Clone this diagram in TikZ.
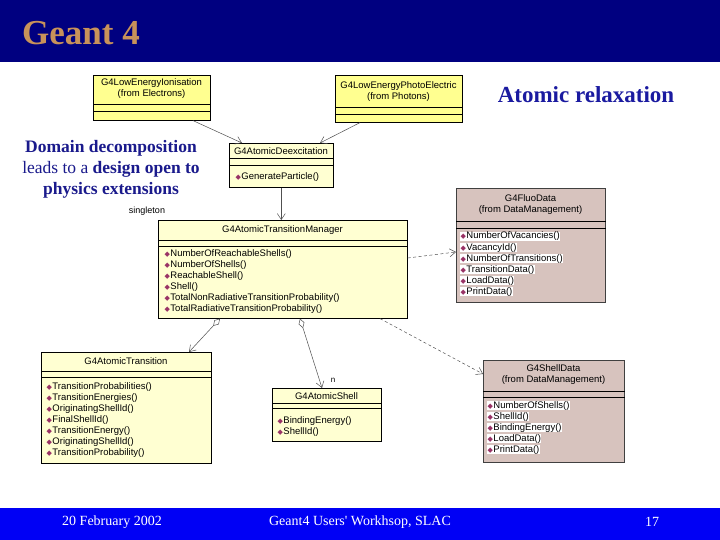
\documentclass[tikz,border=0pt]{standalone}
\usepackage{fontspec}
\setmainfont{Liberation Serif}
\newfontfamily\umlf{Liberation Sans}
\newfontfamily\symf{DejaVu Sans}
\usetikzlibrary{arrows.meta,calc}
\definecolor{navybar}{HTML}{000080}
\definecolor{bluebar}{HTML}{0000F5}
\definecolor{titlec}{HTML}{C8925A}
\definecolor{headc}{HTML}{1A1AA0}
\definecolor{bodyc}{HTML}{1A1A8C}
\definecolor{yelA}{HTML}{FFFF90}
\definecolor{yelB}{HTML}{FFFFD2}
\definecolor{tanc}{HTML}{D7C3BE}
\definecolor{methc}{HTML}{993366}
\definecolor{linec}{HTML}{505050}
\newcommand\ico{{\symf\fontsize{7}{7}\selectfont\color{methc}◆}\kern0.6pt}
\tikzset{
  umlbox/.style={draw=black, line width=0.6pt, inner sep=0pt, anchor=north west},
  sepl/.style={draw=black, line width=0.5pt},
  ttl/.style={font=\umlf\fontsize{9.5}{11}\selectfont, inner sep=0pt, align=center},
  meth/.style={font=\umlf\fontsize{9.5}{11}\selectfont, inner sep=0.3pt, anchor=base west},
  methw/.style={meth, fill=white},
  assoc/.style={draw=linec, line width=0.5pt, -{Straight Barb[length=6pt,width=8pt]}},
  aggr/.style={draw=linec, line width=0.5pt, {Diamond[open,length=10pt,width=6pt]}-{Straight Barb[length=6pt,width=8pt]}},
  dep/.style={draw=linec, line width=0.5pt, dash pattern=on 3pt off 2.5pt, -{Straight Barb[length=6pt,width=8pt]}},
}
\begin{document}
\begin{tikzpicture}[x=1pt,y=-1pt]
\useasboundingbox (0,0) rectangle (720,540);
\fill[white] (0,0) rectangle (720,540);
% banners
\fill[navybar] (0,0) rectangle (720,62);
\fill[bluebar] (0,508) rectangle (720,540);
\node[text=titlec, font=\bfseries\fontsize{35}{35}\selectfont, anchor=west, inner sep=0] (title) at (22,33) {Geant 4};
\node[text=white, font=\fontsize{14}{14}\selectfont, inner sep=0] (f1) at (112,522) {20 February 2002};
\node[text=white, font=\fontsize{14}{14}\selectfont, inner sep=0] (f2) at (360,522) {Geant4 Users\textquotesingle{} Workhsop, SLAC};
\node[text=white, font=\fontsize{14}{14}\selectfont, inner sep=0] (f3) at (652,522) {17};
% slide texts
\node[text=headc, font=\bfseries\fontsize{23}{25}\selectfont, inner sep=0] (head) at (586,95) {Atomic relaxation};
\node[text=bodyc, font=\fontsize{17.5}{21}\selectfont, align=center, inner sep=0] (intro) at (111,169)
  {\textbf{Domain decomposition}\\ leads to a \textbf{design open to}\\ \textbf{physics extensions}};
\node[ttl, font=\umlf\fontsize{9}{10}\selectfont] (single) at (147,211) {singleton};

% boxes
\node[umlbox, fill=yelA, minimum width=117pt, minimum height=45pt] (ion) at (93,75) {};
\draw[sepl] ($(ion.north west)+(0,29)$) -- ($(ion.north east)+(0,29)$);
\draw[sepl] ($(ion.north west)+(0,36)$) -- ($(ion.north east)+(0,36)$);
\node[ttl] (ion-t) at (151.5,89) {G4LowEnergyIonisation\\(from Electrons)};

\node[umlbox, fill=yelA, minimum width=127pt, minimum height=47pt] (photo) at (335,75) {};
\draw[sepl] ($(photo.north west)+(0,32)$) -- ($(photo.north east)+(0,32)$);
\draw[sepl] ($(photo.north west)+(0,39)$) -- ($(photo.north east)+(0,39)$);
\node[ttl] (photo-t) at (398.5,92) {G4LowEnergyPhotoElectric\\(from Photons)};

\node[umlbox, fill=yelB, minimum width=104pt, minimum height=44pt] (deex) at (229,143) {};
\draw[sepl] ($(deex.north west)+(0,15)$) -- ($(deex.north east)+(0,15)$);
\draw[sepl] ($(deex.north west)+(0,22)$) -- ($(deex.north east)+(0,22)$);
\node[ttl] (deex-t) at (281,151) {G4AtomicDeexcitation};
\node[meth] (deex-m0) at (235,180) {\ico GenerateParticle()};

\node[umlbox, fill=yelB, minimum width=249pt, minimum height=98pt] (mgr) at (158,220) {};
\draw[sepl] ($(mgr.north west)+(0,20)$) -- ($(mgr.north east)+(0,20)$);
\draw[sepl] ($(mgr.north west)+(0,26)$) -- ($(mgr.north east)+(0,26)$);
\node[ttl] (mgr-t) at (282.5,230) {G4AtomicTransitionManager};
\foreach \t [count=\i from 0] in {NumberOfReachableShells(),NumberOfShells(),ReachableShell(),Shell(),TotalNonRadiativeTransitionProbability(),TotalRadiativeTransitionProbability()}
  \node[meth] (mgr-m\i) at (164,256+11*\i) {\ico \t};

\node[umlbox, fill=tanc, draw=black!75, minimum width=149pt, minimum height=114pt] (fluo) at (456,188) {};
\draw[sepl] ($(fluo.north west)+(0,33)$) -- ($(fluo.north east)+(0,33)$);
\draw[sepl] ($(fluo.north west)+(0,40)$) -- ($(fluo.north east)+(0,40)$);
\node[ttl] (fluo-t) at (530.5,205) {G4FluoData\\(from DataManagement)};
\foreach \t [count=\i from 0] in {NumberOfVacancies(),VacancyId(),NumberOfTransitions(),TransitionData(),LoadData(),PrintData()}
  \node[methw] (fluo-m\i) at (460,239+11*\i) {\ico \t};

\node[umlbox, fill=yelB, minimum width=170pt, minimum height=111pt] (trans) at (41,352) {};
\draw[sepl] ($(trans.north west)+(0,19)$) -- ($(trans.north east)+(0,19)$);
\draw[sepl] ($(trans.north west)+(0,25)$) -- ($(trans.north east)+(0,25)$);
\node[ttl] (trans-t) at (126,361) {G4AtomicTransition};
\foreach \t [count=\i from 0] in {TransitionProbabilities(),TransitionEnergies(),OriginatingShellId(),FinalShellId(),TransitionEnergy(),OriginatingShellId(),TransitionProbability()}
  \node[meth] (trans-m\i) at (46,389+11*\i) {\ico \t};

\node[umlbox, fill=yelB, minimum width=109pt, minimum height=53pt] (shell) at (272,388) {};
\draw[sepl] ($(shell.north west)+(0,15)$) -- ($(shell.north east)+(0,15)$);
\draw[sepl] ($(shell.north west)+(0,20)$) -- ($(shell.north east)+(0,20)$);
\node[ttl] (shell-t) at (326.5,396) {G4AtomicShell};
\foreach \t [count=\i from 0] in {BindingEnergy(),ShellId()}
  \node[meth] (shell-m\i) at (277,423+11*\i) {\ico \t};

\node[umlbox, fill=tanc, draw=black!75, minimum width=141pt, minimum height=102pt] (sdata) at (483,360) {};
\draw[sepl] ($(sdata.north west)+(0,31)$) -- ($(sdata.north east)+(0,31)$);
\draw[sepl] ($(sdata.north west)+(0,37)$) -- ($(sdata.north east)+(0,37)$);
\node[ttl] (sdata-t) at (553.5,375) {G4ShellData\\(from DataManagement)};
\foreach \t [count=\i from 0] in {NumberOfShells(),ShellId(),BindingEnergy(),LoadData(),PrintData()}
  \node[methw] (sdata-m\i) at (487,408+11*\i) {\ico \t};

% connectors
\draw[assoc] ($(ion.south west)+(100,0)$) -- ($(deex.north west)+(13,0)$);
\draw[assoc] ($(photo.south west)+(25,0)$) -- ($(deex.north west)+(91,0)$);
\draw[assoc] (deex.south) -- (deex.south |- mgr.north);
\draw[dep] ($(mgr.north east)+(0,38)$) -- ($(fluo.north west)+(0,64)$);
\draw[dep] ($(mgr.south west)+(222,0)$) -- ($(sdata.north west)+(0,14)$);
\draw[aggr] ($(mgr.south west)+(62,0)$) -- ($(trans.north west)+(148,0)$);
\draw[aggr] ($(mgr.south west)+(142,0)$) -- ($(shell.north west)+(50,0)$);
\node[ttl, font=\umlf\fontsize{8}{9}\selectfont] (nlab) at (333,380) {n};
\end{tikzpicture}
\end{document}
